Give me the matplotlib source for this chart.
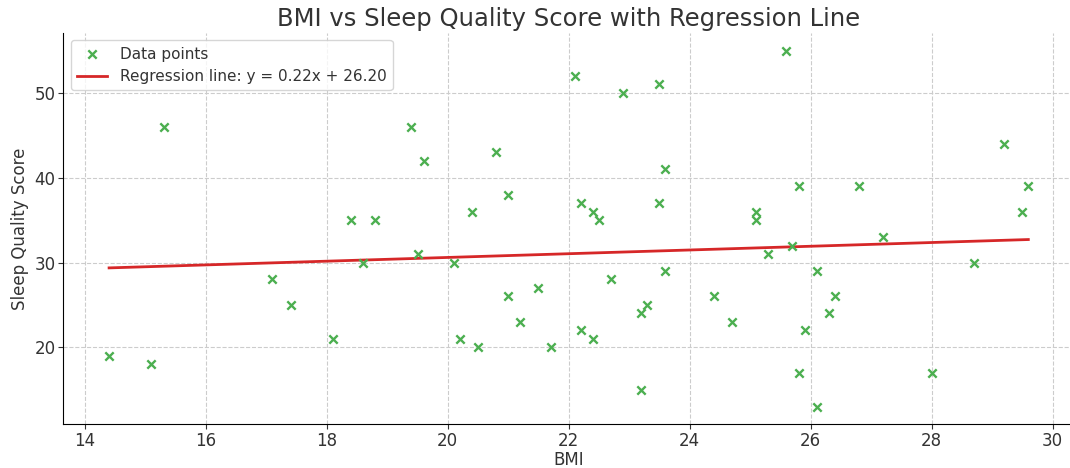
import matplotlib.pyplot as plt

bmi = [15.3, 18.4, 18.8, 14.4, 15.1, 17.1, 17.4, 18.1, 18.6,
       19.4, 19.6, 20.8, 21.0, 20.4, 22.1, 22.9, 23.5, 23.6, 22.2, 22.4, 22.5, 23.5,
       19.5, 20.1, 20.2, 20.5, 21.0, 21.2, 21.5, 21.7, 22.2, 22.4, 22.7, 23.2, 23.3,
       23.2, 23.6, 24.4,
       25.6, 25.1, 25.1, 25.8, 26.8, 27.2, 29.2, 29.6, 29.5,
       24.7, 25.3, 25.7, 26.1, 26.4, 26.3, 25.9, 25.8, 26.1, 28.0, 28.7]
sleep_score = [46, 35, 35, 19, 18, 28, 25, 21, 30,
               46, 42, 43, 38, 36, 52, 50, 51, 41, 37, 36, 35, 37,
               31, 30, 21, 20, 26, 23, 27, 20, 22, 21, 28, 24, 25,
               15, 29, 26,
               55, 36, 35, 39, 39, 33, 44, 39, 36,
               23, 31, 32, 29, 26, 24, 22, 17, 13, 17, 30]

slope = 0.22
intercept = 26.20

text_color = "#333333"
plt.rcParams["font.family"] = "DejaVu Sans"

fig, ax = plt.subplots(figsize=(10.7, 4.68), dpi=100)
fig.subplots_adjust(left=0.059, right=1.004, top=0.93, bottom=0.093)

ax.scatter(bmi, sleep_score, marker="x", color="#4caf50", s=36, linewidths=1.7,
           label="Data points", zorder=3)

x_line = [min(bmi), max(bmi)]
y_line = [slope * x + intercept for x in x_line]
ax.plot(x_line, y_line, color="#d62728", linewidth=2,
        label=f"Regression line: y = {slope:.2f}x + {intercept:.2f}")

ax.set_title("BMI vs Sleep Quality Score with Regression Line", fontsize=17.5,
             color=text_color, pad=5)
ax.set_xlabel("BMI", fontsize=12, color=text_color, labelpad=0.5)
ax.set_ylabel("Sleep Quality Score", fontsize=12, color=text_color)
ax.tick_params(labelsize=12, colors=text_color, length=3.5, pad=2)
ax.set_xticks(range(14, 31, 2))
ax.set_yticks([20, 30, 40, 50])

ax.grid(True, linestyle="--", color="#cccccc", linewidth=0.8)
ax.spines["top"].set_visible(False)
ax.spines["right"].set_visible(False)

ax.legend(loc="upper left", fontsize=11, labelcolor=text_color)

fig.savefig("out.png", dpi=100)
